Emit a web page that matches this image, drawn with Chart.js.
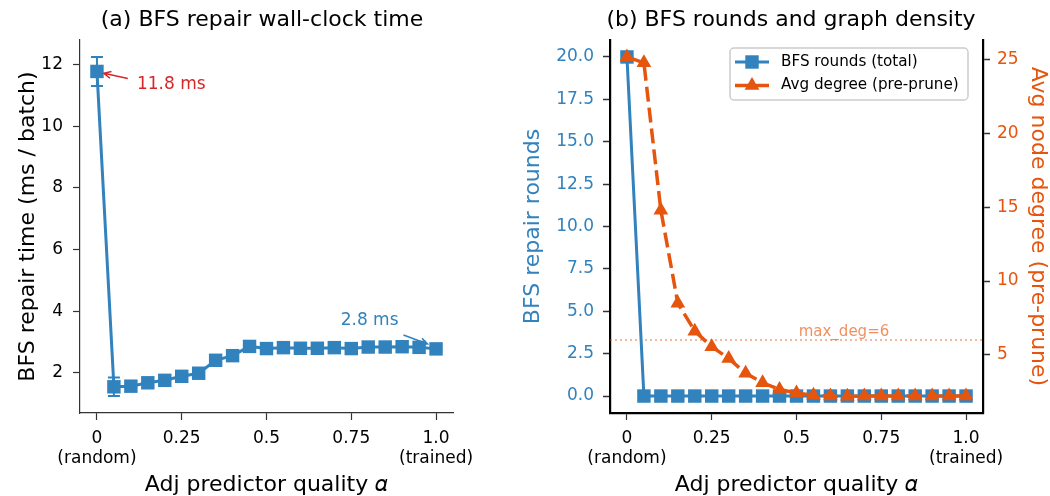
<!DOCTYPE html>
<html>
<head>
<meta charset="utf-8">
<script src="https://cdn.jsdelivr.net/npm/chart.js@4.4.1/dist/chart.umd.min.js"></script>
<style>
  html, body { margin: 0; padding: 0; background: #fff; }
  #wrap { position: relative; width: 1050px; height: 496px; }
  #chart-time { position: absolute; left: 0; top: 0; }
  #chart-rounds { position: absolute; left: 515px; top: 0; }
</style>
</head>
<body>
<div id="wrap">
  <canvas id="chart-time" width="524" height="496"></canvas>
  <canvas id="chart-rounds" width="535" height="496"></canvas>
</div>
<script>
// adjacency predictor quality (x)
const alphaValues = [0, 0.05, 0.1, 0.15, 0.2, 0.25, 0.3, 0.35, 0.4, 0.45, 0.5,
    0.55, 0.6, 0.65, 0.7, 0.75, 0.8, 0.85, 0.9, 0.95, 1.0];
// panel (a)
const repairTimeMs = [11.78, 1.55, 1.57, 1.68, 1.76, 1.89, 1.99, 2.41, 2.56, 2.86, 2.79,
    2.82, 2.80, 2.80, 2.82, 2.79, 2.84, 2.84, 2.85, 2.83, 2.78];
const repairTimeErr = [0.47, 0.3, 0.05, 0.05, 0.05, 0.05, 0.05, 0.05, 0.05, 0.05, 0.05,
    0.05, 0.05, 0.05, 0.05, 0.05, 0.05, 0.05, 0.05, 0.05, 0.05];
// panel (b)
const bfsRounds = [20, 0, 0, 0, 0, 0, 0, 0, 0, 0, 0, 0, 0, 0, 0, 0, 0, 0, 0, 0, 0];
const avgDegree = [25.2, 24.8, 14.8, 8.5, 6.6, 5.55, 4.75, 3.75, 3.1, 2.65, 2.4,
    2.25, 2.2, 2.18, 2.2, 2.2, 2.2, 2.2, 2.2, 2.2, 2.2];
const maxDeg = 6;

const xTickValues = [0, 0.25, 0.5, 0.75, 1.0];
const xTickLabels = [['0', '(random)'], '0.25', '0.5', '0.75', ['1.0', '(trained)']];
const timeTicks = [2, 4, 6, 8, 10, 12];
const roundTicks = [0, 2.5, 5, 7.5, 10, 12.5, 15, 17.5, 20];
const degreeTicks = [5, 10, 15, 20, 25];

const BLUE = '#3182bd';
const ORANGE = '#e6550d';
const FONT = 'DejaVu Sans';

function pts(ys){
    return alphaValues.map((x, i) => ({x: x, y: ys[i]}));
}

function fixedTicks(values){
    return scale => { scale.ticks = values.map(v => ({value: v})); };
}

function xScale(borderWidth, borderColor){
    return {
        type: 'linear', min: -0.05, max: 1.05,
        afterBuildTicks: fixedTicks(xTickValues),
        afterFit: s => { s.height = 83; },
        border: {color: borderColor, width: borderWidth},
        grid: {drawOnChartArea: false, tickLength: 7, color: '#333', tickWidth: 1.2},
        ticks: {
            autoSkip: false, maxRotation: 0, padding: 8, color: '#000',
            font: {family: FONT, size: 17, lineHeight: 1.2},
            callback: v => xTickLabels[xTickValues.indexOf(v)]
        },
        title: {
            display: true, text: 'Adj predictor quality 𝛼', color: '#000',
            font: {family: FONT, size: 22, lineHeight: 1.0},
            padding: {top: 0, bottom: 0}
        }
    };
}

function drawArrow(ctx, x1, y1, x2, y2, color){
    const a = Math.atan2(y2 - y1, x2 - x1);
    const h = 8;
    ctx.save();
    ctx.strokeStyle = color;
    ctx.lineWidth = 1.5;
    ctx.beginPath();
    ctx.moveTo(x1, y1);
    ctx.lineTo(x2, y2);
    ctx.moveTo(x2 - h * Math.cos(a - 0.45), y2 - h * Math.sin(a - 0.45));
    ctx.lineTo(x2, y2);
    ctx.lineTo(x2 - h * Math.cos(a + 0.45), y2 - h * Math.sin(a + 0.45));
    ctx.stroke();
    ctx.restore();
}

const errorBarPlugin = {
    id: 'errorBars',
    afterDatasetsDraw(chart){
        const ctx = chart.ctx;
        const xs = chart.scales.x, ys = chart.scales.y;
        chart.data.datasets.forEach(ds => {
            if(!ds.errorBars) return;
            ctx.save();
            ctx.strokeStyle = ds.borderColor;
            ctx.lineWidth = 2;
            ds.data.forEach((p, i) => {
                const e = ds.errorBars[i];
                const px = xs.getPixelForValue(p.x);
                const top = ys.getPixelForValue(p.y + e);
                const bot = ys.getPixelForValue(p.y - e);
                ctx.beginPath();
                ctx.moveTo(px, top); ctx.lineTo(px, bot);
                ctx.moveTo(px - 6, top); ctx.lineTo(px + 6, top);
                ctx.moveTo(px - 6, bot); ctx.lineTo(px + 6, bot);
                ctx.stroke();
            });
            ctx.restore();
        });
    }
};

const timeNotesPlugin = {
    id: 'timeNotes',
    afterDatasetsDraw(chart){
        const ctx = chart.ctx;
        const xs = chart.scales.x, ys = chart.scales.y;
        const X = v => xs.getPixelForValue(v), Y = v => ys.getPixelForValue(v);
        ctx.save();
        ctx.font = '17px "' + FONT + '"';
        ctx.textBaseline = 'middle';
        ctx.fillStyle = '#d62728';
        ctx.textAlign = 'left';
        ctx.fillText('11.8 ms', X(0.118), Y(11.37));
        drawArrow(ctx, X(0.091), Y(11.55), X(0.02), Y(11.72), '#d62728');
        ctx.fillStyle = BLUE;
        ctx.textAlign = 'center';
        ctx.fillText('2.8 ms', X(0.804), Y(3.70));
        drawArrow(ctx, X(0.904), Y(3.23), X(0.975), Y(2.94), BLUE);
        ctx.restore();
    }
};

function loadRepairTimeChart(){
    const canvas = document.getElementById('chart-time');
    new Chart(canvas, {
        type: 'line',
        data: {
            datasets: [{
                label: 'BFS repair time',
                data: pts(repairTimeMs),
                errorBars: repairTimeErr,
                borderColor: BLUE,
                backgroundColor: BLUE,
                borderWidth: 3,
                pointStyle: 'rect',
                pointRadius: 9.5,
                pointBorderWidth: 0,
                tension: 0
            }]
        },
        options: {
            responsive: false,
            animation: false,
            layout: {padding: 0},
            plugins: {
                legend: {display: false},
                tooltip: {enabled: false},
                title: {
                    display: true, text: '(a) BFS repair wall-clock time', color: '#000',
                    font: {family: FONT, size: 22, weight: 'normal', lineHeight: 1.2},
                    padding: {top: 7, bottom: 6.6}
                }
            },
            scales: {
                x: xScale(1.2, '#333'),
                y: {
                    min: 0.7, max: 12.8,
                    afterBuildTicks: fixedTicks(timeTicks),
                    afterFit: s => { s.width = 80; },
                    border: {color: '#333', width: 1.2},
                    grid: {drawOnChartArea: false, tickLength: 7, color: '#333', tickWidth: 1.2},
                    ticks: {padding: 10, color: '#000', font: {family: FONT, size: 17}},
                    title: {
                        display: true, text: 'BFS repair time (ms / batch)', color: '#000',
                        font: {family: FONT, size: 22, lineHeight: 1.2},
                        padding: {top: 15, bottom: 0}
                    }
                },
                // empty right-hand box that keeps the plot area at the same width as in panel (b)
                pad: {
                    position: 'right', display: true,
                    afterFit: s => { s.width = 71; },
                    border: {display: false},
                    grid: {display: false},
                    ticks: {display: false}
                }
            }
        },
        plugins: [errorBarPlugin, timeNotesPlugin]
    });
}

const roundsExtrasPlugin = {
    id: 'roundsExtras',
    beforeDatasetsDraw(chart){
        const ctx = chart.ctx;
        const area = chart.chartArea;
        const y = chart.scales.y2.getPixelForValue(maxDeg);
        ctx.save();
        ctx.strokeStyle = 'rgba(230,85,13,0.55)';
        ctx.lineWidth = 1.5;
        ctx.setLineDash([2, 3]);
        ctx.beginPath();
        ctx.moveTo(area.left, y); ctx.lineTo(area.right, y);
        ctx.stroke();
        ctx.setLineDash([]);
        ctx.fillStyle = 'rgba(230,85,13,0.65)';
        ctx.font = '15px "' + FONT + '"';
        ctx.textAlign = 'center';
        ctx.textBaseline = 'middle';
        ctx.fillText('max_deg=' + maxDeg, chart.scales.x.getPixelForValue(0.64),
            chart.scales.y2.getPixelForValue(6.55));
        ctx.restore();
    },
    afterDatasetsDraw(chart){
        // matplotlib-style legend box in the upper right corner
        const ctx = chart.ctx;
        const area = chart.chartArea;
        const w = 238, h = 52;
        const left = area.right - 15 - w, top = area.top + 8;
        ctx.save();
        ctx.fillStyle = 'rgba(255,255,255,0.85)';
        ctx.strokeStyle = '#cccccc';
        ctx.lineWidth = 1.5;
        ctx.beginPath();
        ctx.roundRect(left, top, w, h, 4);
        ctx.fill();
        ctx.stroke();
        chart.data.datasets.forEach((ds, i) => {
            const cy = top + 14 + i * 23.5;
            ctx.strokeStyle = ds.borderColor;
            ctx.lineWidth = ds.borderWidth;
            ctx.setLineDash(ds.borderDash || []);
            ctx.beginPath();
            ctx.moveTo(left + 5, cy); ctx.lineTo(left + 39, cy);
            ctx.stroke();
            ctx.setLineDash([]);
            ctx.fillStyle = ds.backgroundColor;
            Chart.helpers.drawPoint(ctx, {pointStyle: ds.pointStyle, radius: ds.pointRadius, borderWidth: 0, rotation: 0}, left + 22, cy);
            ctx.fillStyle = '#000';
            ctx.font = '15.2px "' + FONT + '"';
            ctx.textAlign = 'left';
            ctx.textBaseline = 'middle';
            ctx.fillText(ds.label, left + 51, cy);
        });
        ctx.restore();
    }
};

function loadRoundsChart(){
    const canvas = document.getElementById('chart-rounds');
    new Chart(canvas, {
        type: 'line',
        data: {
            datasets: [{
                label: 'BFS rounds (total)',
                data: pts(bfsRounds),
                yAxisID: 'y',
                borderColor: BLUE,
                backgroundColor: BLUE,
                borderWidth: 3,
                pointStyle: 'rect',
                pointRadius: 9.5,
                pointBorderWidth: 0,
                order: 2
            }, {
                label: 'Avg degree (pre-prune)',
                data: pts(avgDegree),
                yAxisID: 'y2',
                borderColor: ORANGE,
                backgroundColor: ORANGE,
                borderWidth: 3.5,
                borderDash: [15, 6],
                pointStyle: 'triangle',
                pointRadius: 8.5,
                pointBorderWidth: 0,
                order: 1
            }]
        },
        options: {
            responsive: false,
            animation: false,
            layout: {padding: {left: 17, right: 0, top: 0, bottom: 0}},
            plugins: {
                legend: {display: false},
                tooltip: {enabled: false},
                title: {
                    display: true, text: '(b) BFS rounds and graph density', color: '#000',
                    font: {family: FONT, size: 22, weight: 'normal', lineHeight: 1.2},
                    padding: {top: 7, bottom: 6.6}
                }
            },
            scales: {
                x: xScale(2.2, '#000'),
                y: {
                    position: 'left',
                    min: -1, max: 21,
                    afterBuildTicks: fixedTicks(roundTicks),
                    afterFit: s => { s.width = 78; },
                    border: {color: '#000', width: 2.2},
                    grid: {drawOnChartArea: false, tickLength: 7, color: '#333', tickWidth: 1.5},
                    ticks: {padding: 9, color: BLUE, font: {family: FONT, size: 17},
                        callback: v => v.toFixed(1)},
                    title: {
                        display: true, text: 'BFS repair rounds', color: BLUE,
                        font: {family: FONT, size: 22, lineHeight: 1.2},
                        padding: {top: -12, bottom: 0}
                    }
                },
                y2: {
                    position: 'right',
                    min: 1.05, max: 26.35,
                    afterBuildTicks: fixedTicks(degreeTicks),
                    afterFit: s => { s.width = 67; },
                    border: {color: '#000', width: 2.2},
                    grid: {drawOnChartArea: false, tickLength: 7, color: '#333', tickWidth: 1.5},
                    ticks: {padding: 7, color: ORANGE, font: {family: FONT, size: 17}},
                    title: {
                        display: true, text: 'Avg node degree (pre-prune)', color: ORANGE,
                        font: {family: FONT, size: 22, lineHeight: 1.1},
                        padding: {top: 0, bottom: 0}
                    }
                }
            }
        },
        plugins: [roundsExtrasPlugin]
    });
}

loadRepairTimeChart();
loadRoundsChart();
</script>
</body>
</html>
